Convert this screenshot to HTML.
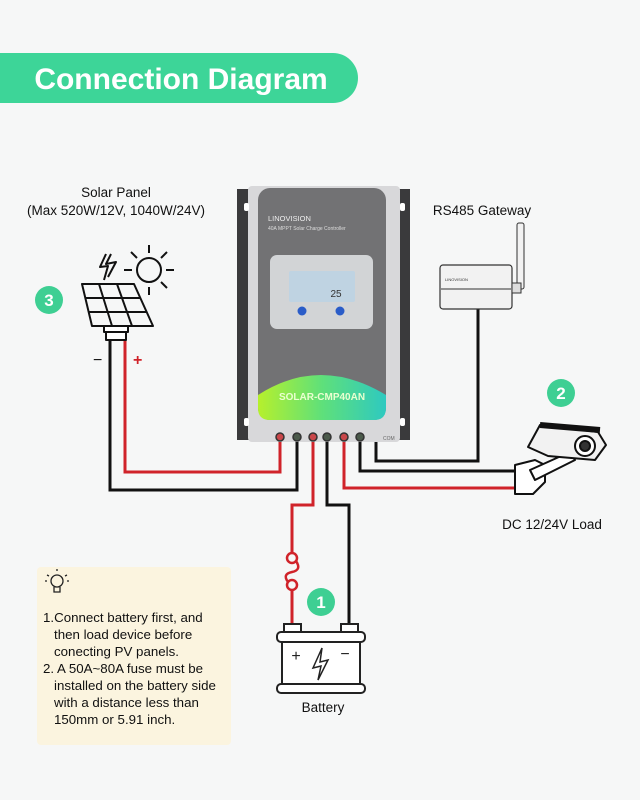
<!DOCTYPE html>
<html><head><meta charset="utf-8"><style>
html,body{margin:0;padding:0;background:#f6f7f7;}
svg{display:block;font-family:"Liberation Sans",sans-serif;}
</style></head><body>
<svg width="640" height="800" viewBox="0 0 640 800" xmlns="http://www.w3.org/2000/svg">
<rect width="640" height="800" fill="#f6f7f7"/>
<path d="M0 53 H333 A25 25 0 0 1 333 103 H0 Z" fill="#3dd598"/>
<text x="181" y="89" text-anchor="middle" font-size="30" font-weight="bold" fill="#fff">Connection Diagram</text>
<text x="116" y="197" text-anchor="middle" font-size="13.5" fill="#111">Solar Panel</text>
<text x="116" y="215" text-anchor="middle" font-size="13.5" fill="#111">(Max 520W/12V, 1040W/24V)</text>
<text x="482" y="215" text-anchor="middle" font-size="13.5" fill="#111">RS485 Gateway</text>
<text x="552" y="529" text-anchor="middle" font-size="13.5" fill="#111">DC 12/24V Load</text>
<text x="323" y="712" text-anchor="middle" font-size="13.5" fill="#111">Battery</text>
<g font-size="17" font-weight="bold" fill="#fff" text-anchor="middle">
<circle cx="49" cy="300" r="14" fill="#3ecf93"/><text x="49" y="306">3</text>
<circle cx="561" cy="393" r="14" fill="#3ecf93"/><text x="561" y="399">2</text>
<circle cx="321" cy="602" r="14" fill="#3ecf93"/><text x="321" y="608">1</text>
</g>
<g fill="none" stroke-width="3">
<polyline points="280,440 280,472 125,472 125,340" stroke="#d0232a"/>
<polyline points="297,440 297,490 110,490 110,340" stroke="#111"/>
<polyline points="313,440 313,505 292,505 292,552" stroke="#d0232a"/>
<polyline points="292,590 292,625" stroke="#d0232a"/>
<polyline points="327,440 327,505 349,505 349,624" stroke="#111"/>
<polyline points="344,440 344,488 518,488" stroke="#d0232a"/>
<polyline points="360,440 360,471 518,471" stroke="#111"/>
<polyline points="376,430 376,461 478,461 478,308" stroke="#111"/>
</g>
<g fill="none" stroke="#d0232a" stroke-width="2.5">
<circle cx="292" cy="558" r="5"/><circle cx="292" cy="585" r="5"/>
<path d="M296 561 Q302 570 292 572 Q282 574 288 582"/>
</g>
<g fill="#fff" stroke="#222" stroke-width="2">
<rect x="284" y="624" width="17" height="8"/><rect x="341" y="624" width="17" height="8"/>
<rect x="277" y="632" width="88" height="10" rx="4"/>
<rect x="282" y="642" width="78" height="42"/>
<rect x="277" y="684" width="88" height="9" rx="4"/>
</g>
<text x="296" y="661" text-anchor="middle" font-size="16" fill="#222">+</text>
<text x="345" y="659" text-anchor="middle" font-size="16" fill="#222">−</text>
<path d="M322 648 L313 668 L321 666 L318 680 L328 660 L320 662 Z" fill="none" stroke="#222" stroke-width="1.5"/>
<rect x="237" y="189" width="173" height="251" fill="#3a3a3c"/>
<rect x="248" y="186" width="152" height="256" rx="4" fill="#d8d8da"/>
<rect x="258" y="188" width="128" height="232" rx="12" fill="#727274"/>
<defs><linearGradient id="g1" x1="0" x2="1" y1="0" y2="0"><stop offset="0" stop-color="#b6f02c"/><stop offset="0.5" stop-color="#5fe07a"/><stop offset="1" stop-color="#2ec9c0"/></linearGradient></defs>
<path d="M258 395 Q320 355 386 395 L386 408 Q386 420 374 420 L270 420 Q258 420 258 408 Z" fill="url(#g1)"/>
<text x="322" y="400" text-anchor="middle" font-size="10" font-weight="bold" fill="#eaffd0">SOLAR-CMP40AN</text>
<text x="268" y="221" font-size="7.5" fill="#eee">LINOVISION</text>
<text x="268" y="230" font-size="5" fill="#ddd">40A MPPT Solar Charge Controller</text>
<rect x="270" y="255" width="103" height="74" rx="7" fill="#d2d4d6"/>
<rect x="289" y="271" width="66" height="31" rx="2" fill="#bfd3e2"/>
<text x="336" y="297" text-anchor="middle" font-size="10" fill="#333">25</text>
<circle cx="302" cy="311" r="4.5" fill="#2a5cc8"/><circle cx="340" cy="311" r="4.5" fill="#2a5cc8"/>
<rect x="244" y="203" width="5" height="8" rx="2" fill="#fff"/><rect x="400" y="203" width="5" height="8" rx="2" fill="#fff"/>
<rect x="244" y="418" width="5" height="8" rx="2" fill="#fff"/><rect x="400" y="418" width="5" height="8" rx="2" fill="#fff"/>
<g stroke="#333" stroke-width="1.5">
<circle cx="280" cy="437" r="4" fill="#c9474a"/><circle cx="297" cy="437" r="4" fill="#4b5a4b"/>
<circle cx="313" cy="437" r="4" fill="#c9474a"/><circle cx="327" cy="437" r="4" fill="#4b5a4b"/>
<circle cx="344" cy="437" r="4" fill="#c9474a"/><circle cx="360" cy="437" r="4" fill="#4b5a4b"/>
</g>
<text x="383" y="440" font-size="5" fill="#666">COM</text>
<g fill="none" stroke="#111" stroke-width="2" stroke-linejoin="round">
<path d="M82 284 L134 284 L153 326 L92 326 Z"/>
<path d="M85 298 L141 298 M88 312 L147 312 M99 284 L112 326 M117 284 L132 326"/>
<rect x="104" y="326" width="24" height="6" fill="#fff"/>
<rect x="106" y="332" width="20" height="8" fill="#fff"/>
<circle cx="149" cy="270" r="12"/>
<path d="M149 245 V253 M149 287 V295 M124 270 H132 M166 270 H174 M131 252 L137 258 M167 252 L161 258 M167 288 L161 282"/>
<path d="M106 254 L100 267 L108 266 L104 280 M111 254 L106 264 L116 262 L108 277"/>
</g>
<text x="93" y="365" font-size="16" fill="#111">−</text>
<text x="133" y="365" font-size="16" font-weight="bold" fill="#d0232a">+</text>
<rect x="440" y="265" width="72" height="44" rx="3" fill="#f2f2f2" stroke="#333" stroke-width="1.2"/>
<line x1="441" y1="289" x2="511" y2="289" stroke="#333" stroke-width="1"/>
<text x="445" y="281" font-size="4" fill="#333">LINOVISION</text>
<rect x="517" y="223" width="7" height="66" rx="2" fill="#f2f2f2" stroke="#333"/>
<rect x="512" y="283" width="9" height="10" fill="#ddd" stroke="#333"/>
<g stroke="#111" stroke-width="2" stroke-linejoin="round">
<path d="M515 465 L535 460 L545 465 L545 482 L533 494 L515 494 Z" fill="#fff"/>
<path d="M530 470 L570 452 L575 460 L535 480 Z" fill="#fff"/>
<path d="M540 425 L598 432 L606 445 L595 460 L548 456 L528 447 Z" fill="#f2f2f2"/>
<path d="M540 425 L600 430" stroke-width="6"/>
<circle cx="585" cy="446" r="10" fill="#fff"/>
<circle cx="585" cy="446" r="5" fill="#333"/>
</g>
<rect x="37" y="567" width="194" height="178" rx="4" fill="#fbf4df"/>
<g fill="none" stroke="#222" stroke-width="1.3">
<circle cx="57" cy="581" r="6"/><path d="M54 587 V592 H60 V587"/>
<path d="M57 569 V571 M47 575 L49 576 M67 575 L65 576 M45 581 H47 M69 581 H67"/>
</g>
<g font-size="13.3" fill="#111">
<text x="43" y="622">1.Connect battery first, and</text>
<text x="54" y="639">then load device before</text>
<text x="54" y="656">conecting PV panels.</text>
<text x="43" y="673">2. A 50A~80A fuse must be</text>
<text x="54" y="690">installed on the battery side</text>
<text x="54" y="707">with a distance less than</text>
<text x="54" y="724">150mm or 5.91 inch.</text>
</g>
</svg>
</body></html>
